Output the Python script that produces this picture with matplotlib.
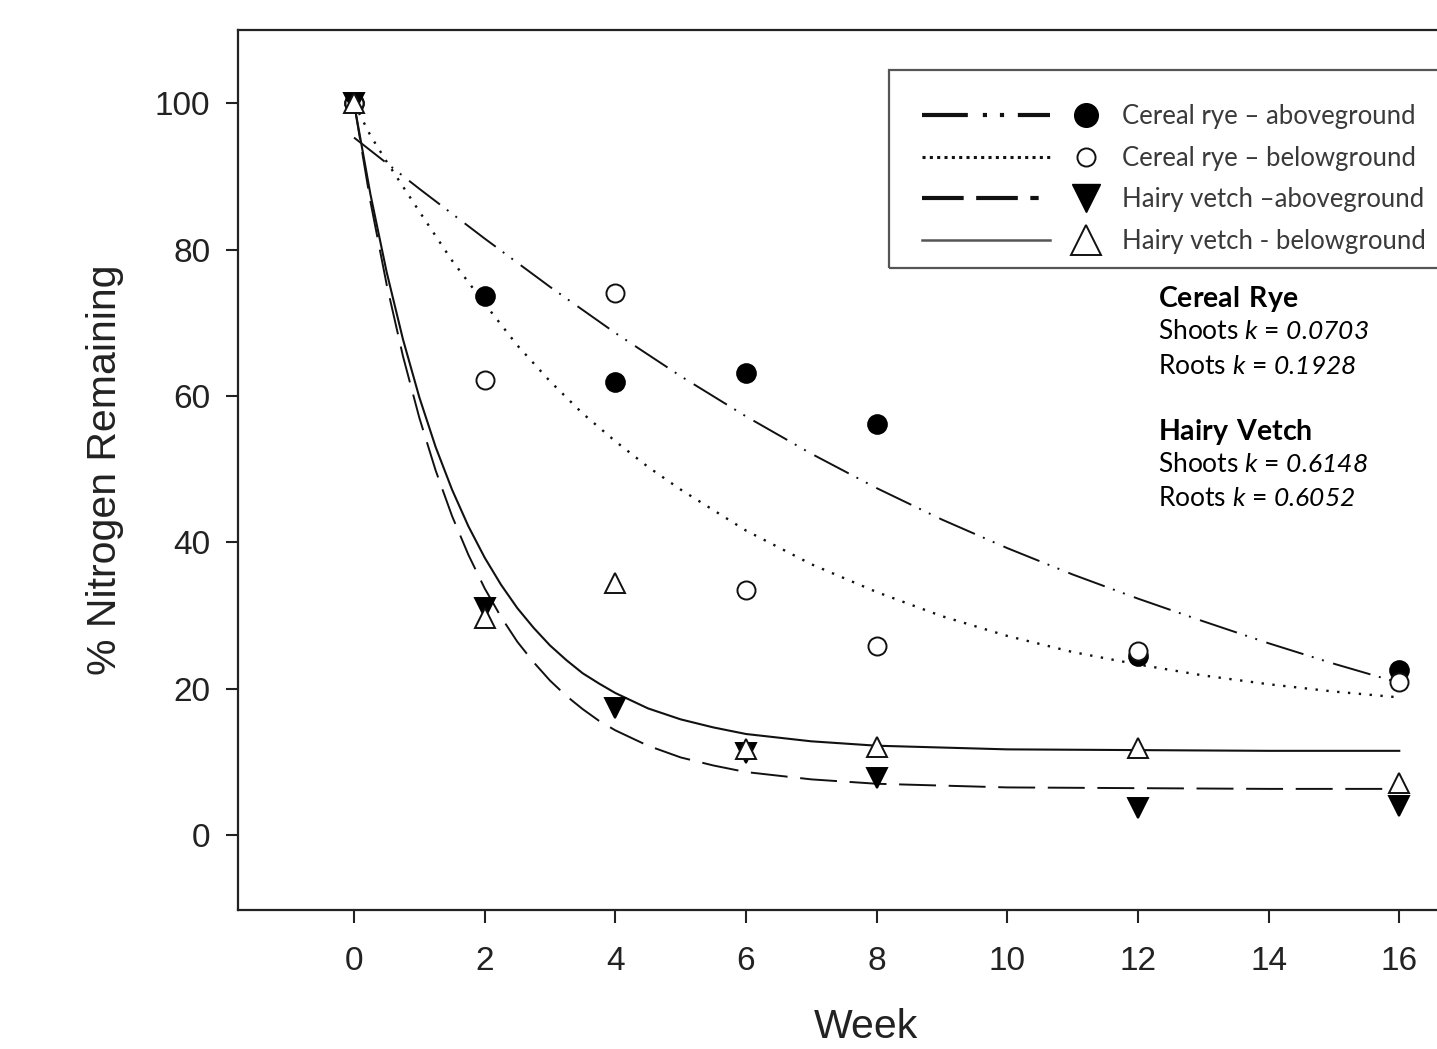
import matplotlib
matplotlib.use("Agg")
import matplotlib.pyplot as plt
from matplotlib.lines import Line2D
from matplotlib.patches import Rectangle
from matplotlib.legend_handler import HandlerBase

# measured points (% N remaining)
weeks = [0, 2, 4, 6, 8, 12, 16]
rye_shoots = [100, 73.6, 61.9, 63.1, 56.1, 24.4, 22.5]
rye_roots = [100, 62.2, 74.0, 33.5, 25.8, 25.1, 20.9]
vetch_shoots = [100, 31.0, 17.3, 11.2, 7.8, 3.7, 4.0]
vetch_roots = [100, 29.6, 34.4, 11.8, 12.0, 11.9, 7.1]

# fitted decay curves
rye_shoots_fit_wk = [0, 1, 2, 3, 4, 5, 6, 7, 8, 9, 10, 11, 12, 13, 14, 15, 16]
rye_shoots_fit = [95.3, 88.3, 81.5, 74.9, 68.6, 62.7, 57.2, 52.1, 47.4, 43.1,
                  39.2, 35.6, 32.3, 29.2, 26.2, 23.4, 20.8]
rye_roots_fit_wk = [0, 0.25, 0.5, 0.75, 1, 1.5, 2, 2.5, 3, 3.5, 4, 4.5, 5, 6, 7,
                    8, 9, 10, 11, 12, 13, 14, 15, 16]
rye_roots_fit = [100, 95.6, 92.0, 88.6, 85.2, 78.5, 72.6, 66.9, 62.0, 57.6, 53.8,
                 50.3, 47.2, 41.6, 37.0, 33.2, 29.9, 27.2, 25.0, 23.3, 21.8, 20.6,
                 19.6, 18.8]
vetch_fit_wk = [0, 0.25, 0.5, 0.75, 1, 1.25, 1.5, 1.75, 2, 2.25, 2.5, 2.75, 3,
                3.25, 3.5, 3.75, 4, 4.5, 5, 5.5, 6, 7, 8, 10, 12, 14, 16]
vetch_shoots_fit = [100, 86.6, 75.2, 65.4, 57.0, 49.8, 43.6, 38.3, 33.7, 29.8,
                    26.4, 23.6, 21.1, 19.0, 17.2, 15.6, 14.3, 12.2, 10.6, 9.5,
                    8.6, 7.6, 7.0, 6.5, 6.4, 6.3, 6.3]
vetch_roots_fit = [100, 87.6, 76.9, 67.7, 59.8, 53.0, 47.2, 42.2, 37.9, 34.2,
                   31.0, 28.3, 25.9, 23.9, 22.1, 20.7, 19.4, 17.3, 15.8, 14.7,
                   13.8, 12.8, 12.2, 11.7, 11.6, 11.5, 11.5]

legend_labels = ["Cereal rye \u2013 aboveground", "Cereal rye \u2013 belowground",
                 "Hairy vetch \u2013aboveground", "Hairy vetch - belowground"]
xticks = [0, 2, 4, 6, 8, 10, 12, 14, 16]
yticks = [0, 20, 40, 60, 80, 100]

plt.rcParams["mathtext.fontset"] = "custom"
plt.rcParams["mathtext.rm"] = "Lato"
plt.rcParams["mathtext.sf"] = "Lato:italic"
plt.rcParams["mathtext.bf"] = "Lato:bold"

W, H = 1437, 1049
fig = plt.figure(figsize=(W / 100, H / 100), dpi=100)
ax = fig.add_axes([238 / W, 1 - 910 / H, (1494 - 238) / W, (910 - 30) / H])

ink = "#111111"
ls_rye_shoots = (0, (20, 4.5, 1, 4.5, 1, 5))
ls_rye_roots = (0, (1, 3.6))
ls_vetch_shoots = (0, (19, 6.5))

ax.plot(rye_shoots_fit_wk, rye_shoots_fit, color=ink, lw=1.4, linestyle=ls_rye_shoots)
ax.plot(rye_roots_fit_wk, rye_roots_fit, color=ink, lw=1.7, linestyle=ls_rye_roots)
ax.plot(vetch_fit_wk, vetch_shoots_fit, color=ink, lw=1.4, linestyle=ls_vetch_shoots)
ax.plot(vetch_fit_wk, vetch_roots_fit, color=ink, lw=1.5, linestyle="-")

mk = dict(linestyle="", mew=1.4)
ax.plot(weeks, rye_shoots, marker="o", ms=13.5, mfc="black", mec="black", **mk)
ax.plot(weeks, rye_roots, marker="o", ms=13, mfc="white", mec=ink, **mk)
ax.plot(weeks, vetch_shoots, marker="v", ms=15, mfc="black", mec="black", **mk)
ax.plot(weeks, vetch_roots, marker="^", ms=15, mfc="white", mec=ink, **mk)

ax.set_xlim(-1.776, 17.45)
ax.set_ylim(-10.25, 110)
ax.set_xticks(xticks)
ax.set_yticks(yticks)
for s in ["left", "bottom", "top", "right"]:
    ax.spines[s].set_linewidth(1.6)
    ax.spines[s].set_color("#222222")
ax.tick_params(direction="out", length=9, width=1.5, labelsize=24,
               colors="#222222")
ax.tick_params(axis="x", pad=17)
ax.tick_params(axis="y", pad=11)
for lab in ax.get_xticklabels() + ax.get_yticklabels():
    lab.set_fontfamily("Liberation Sans")
ax.set_xlabel("Week", fontsize=29.5, family="Liberation Sans", labelpad=22,
              color="#222222")
ax.set_ylabel("% Nitrogen Remaining", fontsize=29.5, family="Liberation Sans",
              labelpad=22, color="#222222")


class LineMarkerHandler(HandlerBase):
    # line sample on the left, marker on the right
    def create_artists(self, legend, orig_handle, xdescent, ydescent, width,
                       height, fontsize, trans):
        line, mark = orig_handle
        y = height / 2 - ydescent
        x0 = -xdescent
        seg = Line2D([x0, x0 + 0.70 * width], [y, y])
        seg.update_from(line)
        seg.set_marker("")
        seg.set_transform(trans)
        dot = Line2D([x0 + 0.9 * width], [y])
        dot.update_from(mark)
        dot.set_linestyle("")
        dot.set_transform(trans)
        return [seg, dot]


leg_lines = [
    Line2D([], [], color=ink, lw=3, linestyle=(0, (11, 3.6, 1, 3.1, 1, 3.3))),
    Line2D([], [], color=ink, lw=2.2, linestyle=(0, (1, 1.4))),
    Line2D([], [], color=ink, lw=3, linestyle=(0, (10, 3, 10, 3, 2, 3))),
    Line2D([], [], color="#555555", lw=1.8, linestyle="-"),
]
leg_marks = [
    Line2D([], [], marker="o", ms=17, mfc="black", mec="black", linestyle=""),
    Line2D([], [], marker="o", ms=13, mfc="white", mec=ink, mew=1.4, linestyle=""),
    Line2D([], [], marker="v", ms=20, mfc="black", mec="black", linestyle=""),
    Line2D([], [], marker="^", ms=22, mfc="white", mec=ink, mew=1.4, linestyle=""),
]
handles = list(zip(leg_lines, leg_marks))
leg = fig.legend(handles, legend_labels, handler_map={tuple: LineMarkerHandler()},
                 loc="upper left", bbox_to_anchor=(922 / W, 1 - 104 / H),
                 bbox_transform=fig.transFigure, borderaxespad=0,
                 prop={"family": "Lato", "size": 18.5}, handlelength=7.1,
                 handletextpad=0.7, labelspacing=0.65, borderpad=0,
                 frameon=False)
for t in leg.get_texts():
    t.set_color("#3a3a3a")
fig.add_artist(Rectangle((889 / W, 1 - 268 / H), (1520 - 889) / W, 198 / H,
                         transform=fig.transFigure, fill=True, facecolor="none",
                         edgecolor="#555555", lw=1.6, zorder=1))

# decay constants
notes = [
    (299, r"$\mathbf{Cereal\ Rye}$", 20.5),
    (332, r"Shoots $\mathsf{k}$ = $\mathsf{0.0703}$", 19),
    (366, r"Roots $\mathsf{k}$ = $\mathsf{0.1928}$", 19),
    (432, r"$\mathbf{Hairy\ Vetch}$", 20.5),
    (465, r"Shoots $\mathsf{k}$ = $\mathsf{0.6148}$", 19),
    (499, r"Roots $\mathsf{k}$ = $\mathsf{0.6052}$", 19),
]
for ypix, txt, size in notes:
    fig.text(1158 / W, 1 - ypix / H, txt, fontsize=size, family="Lato",
             va="center", ha="left", color="black")

fig.savefig("out.png", dpi=100)
